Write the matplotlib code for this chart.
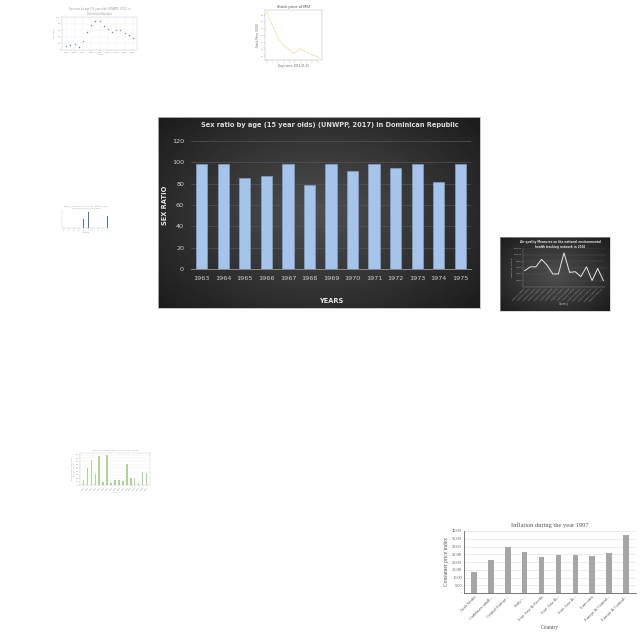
import matplotlib
matplotlib.use("Agg")
import matplotlib.pyplot as plt
import numpy as np

# ---------------- data ----------------
years = ["1963", "1964", "1965", "1966", "1967", "1968", "1969", "1970",
         "1971", "1972", "1973", "1974", "1975"]
sex_ratio = [98, 98, 85.5, 87, 98, 79, 98.5, 91.5, 98.5, 95, 98.5, 82, 98.5]

scatter_x = [1950, 1955, 1960, 1965, 1970, 1975, 1980, 1985, 1990, 1995,
             2000, 2005, 2010, 2015, 2020, 2025, 2030]
scatter_y = [12, 16, 18, 10, 27, 55, 76, 88, 88, 73, 65, 56, 60, 61, 52, 44, 36]

stock_days = [0, 0.75, 1.5, 2.2, 3.0, 3.8, 4.8, 5.9, 6.8, 7.7, 8.8, 9.5]
stock_price = [47, 40, 33, 27, 23, 20.5, 17, 20.5, 18.5, 16.5, 15, 14]

small_cats = ["a", "b", "c", "d", "e", "f", "g", "h", "i", "j"]
small_vals = [0, 0, 0, 0, 25, 45, 0, 0, 0, 33]

air_vals = [50, 62, 62, 85, 67, 40, 40, 105, 45, 47, 32, 62, 20, 57, 20]

gdp_cats = ["%d" % (2000 + i) for i in range(20)]
gdp_vals = [15, 50, 73, 32, 85, 8, 88, 7, 14, 14, 12, 62, 22, 20, 6, 38, 37]

infl_countries = ["Arab World", "Caribbean small...", "Central Europe...", "Early-...",
                  "East Asia & Pacific", "East Asia &...", "East Asia &...",
                  "Euro area", "Europe & Central...", "Europe & Central..."]
infl_vals = [13.5, 21.5, 29.5, 26.5, 23.2, 24.6, 24.2, 23.6, 25.8, 37.5]
infl_ticks = ["-", "5.00", "10.00", "15.00", "20.00", "25.00", "30.00", "35.00", "40.00"]

# ---------------- layout helpers ----------------
W = H = 640.0


def box(x0, y0, x1, y1):
    return [x0 / W, 1 - y1 / H, (x1 - x0) / W, (y1 - y0) / H]


fig = plt.figure(figsize=(6.4, 6.4), dpi=100)
fig.patch.set_facecolor("white")


def thin(ax, color="#cccccc", lw=0.3):
    for s in ax.spines.values():
        s.set_linewidth(lw)
        s.set_color(color)
    ax.tick_params(length=0.8, width=0.3, labelsize=1.6, pad=0.5, colors="#999999")


# ---------------- main chart ----------------
bg = fig.add_axes(box(158, 117, 480, 308))
yy, xx = np.mgrid[-1:1:200j, -1:1:300j]
r = np.sqrt(xx ** 2 + (yy * 0.9) ** 2)
grad = np.clip(0.31 - 0.15 * r, 0.1, 1)
bg.imshow(grad, cmap="gray", vmin=0, vmax=1, aspect="auto", extent=[0, 1, 0, 1])
bg.set_xticks([]); bg.set_yticks([])
for s in bg.spines.values():
    s.set_color("#bbbbbb"); s.set_linewidth(0.6)
bg.text(0.535, 0.958, "Sex ratio by age (15 year olds) (UNWPP, 2017) in Dominican Republic",
        ha="center", va="center", color="#dcdcdc", fontsize=4.8, fontweight="bold",
        transform=bg.transAxes)

ax = fig.add_axes(box(191, 141, 471, 269))
ax.patch.set_alpha(0)
x = np.arange(len(years))
ax.bar(x, sex_ratio, width=0.52, color="#a6c4eb", edgecolor="#86abd9", linewidth=0.4, zorder=3)
ax.set_xlim(-0.5, len(years) - 0.5)
ax.set_ylim(0, 120)
ax.set_yticks(range(0, 121, 20))
ax.set_xticks(x)
ax.set_xticklabels(years)
ax.tick_params(colors="#d0d0d0", labelsize=4.6, length=0, pad=5)
ax.grid(axis="y", color="#555555", linewidth=0.5, zorder=0)
for s in ["top", "right", "left"]:
    ax.spines[s].set_visible(False)
ax.spines["bottom"].set_color("#8a8a8a")
ax.spines["bottom"].set_linewidth(0.7)
ax.set_ylabel("SEX RATIO", color="#e6e6e6", fontsize=4.8, fontweight="bold")
ax.yaxis.set_label_coords(-0.082, 0.5)
ax.set_xlabel("YEARS", color="#e6e6e6", fontsize=4.8, fontweight="bold", labelpad=12)

# ---------------- thumbnail: scatter (top left) ----------------
a1 = fig.add_axes(box(62, 17, 137, 50))
a1.scatter(scatter_x, scatter_y, s=1.2, color="#6a7fb5", linewidths=0)
a1.set_xlim(1945, 2035); a1.set_ylim(0, 100)
a1.grid(color="#eeeeee", linewidth=0.3)
thin(a1)
a1.set_title("Sex ratio by age (15 year olds) (UNWPP, 2017) in\nDominican Republic",
             fontsize=1.8, color="#999999", pad=1.5)
a1.set_xlabel("Years", fontsize=1.6, color="#999999", labelpad=0.5)
a1.set_ylabel("Sex ratio", fontsize=1.6, color="#999999", labelpad=0.5)

# ---------------- thumbnail: stock price ----------------
a2 = fig.add_axes(box(265, 10, 322, 60))
a2.plot(stock_days, stock_price, color="#ebdf95", linewidth=0.5)
a2.set_xlim(-0.3, 9.8)
a2.set_xticks(range(0, 10))
a2.set_yticks([15, 20, 25, 30, 35, 40, 45])
thin(a2, color="#aaaaaa")
a2.set_title("Stock price of MST", fontsize=2.6, color="#444444", pad=1.5)
a2.set_xlabel("Days since 2014-01-15", fontsize=2.0, color="#666666", labelpad=0.5)
a2.set_ylabel("Stock Price (USD)", fontsize=2.0, color="#666666", labelpad=0.5)

# ---------------- thumbnail: small blue bars ----------------
a3 = fig.add_axes(box(62, 210, 110, 228))
a3.bar(range(len(small_cats)), small_vals, width=0.25, color="#4a6fb5")
a3.set_xlim(-0.5, len(small_cats) - 0.5); a3.set_ylim(0, 50)
a3.set_xticks(range(len(small_cats)))
a3.set_xticklabels(small_cats, rotation=45)
a3.set_yticks([])
thin(a3)
a3.spines["top"].set_visible(False); a3.spines["right"].set_visible(False)
a3.set_title("Mean / median income by region, 2017\n(Percentile 50 of income)",
             fontsize=1.6, color="#999999", pad=1.2)
a3.set_xlabel("Region", fontsize=1.5, color="#999999", labelpad=0.5)

# ---------------- thumbnail: dark air-quality line ----------------
bg4 = fig.add_axes(box(500, 237, 610, 311))
bg4.imshow(grad, cmap="gray", vmin=0, vmax=1, aspect="auto", extent=[0, 1, 0, 1])
bg4.set_xticks([]); bg4.set_yticks([])
for s in bg4.spines.values():
    s.set_color("#bbbbbb"); s.set_linewidth(0.4)
bg4.text(0.55, 0.9, "Air quality Measures on the national environmental\nhealth tracking network in 2006",
         ha="center", va="center", color="#dddddd", fontsize=2.0, fontweight="bold",
         transform=bg4.transAxes)
a4 = fig.add_axes(box(523, 248, 605, 287))
a4.patch.set_alpha(0)
a4.plot(range(len(air_vals)), air_vals, color="#e6e6e6", linewidth=0.7)
a4.set_ylim(0, 120)
a4.set_xlim(-0.3, len(air_vals) - 0.7)
a4.set_xticks(range(len(air_vals)))
a4.set_xticklabels(["Country name %d" % i for i in range(len(air_vals))], rotation=45, ha="right")
a4.set_yticks([0, 20, 40, 60, 80, 100, 120])
a4.set_yticklabels(["", "20000", "40000", "60000", "80000", "100000", "120000"])
a4.tick_params(colors="#bbbbbb", labelsize=1.5, length=0, pad=0.5)
a4.grid(axis="y", color="#555555", linewidth=0.3)
for s in ["top", "right"]:
    a4.spines[s].set_visible(False)
a4.spines["left"].set_color("#888888"); a4.spines["bottom"].set_color("#888888")
a4.spines["left"].set_linewidth(0.3); a4.spines["bottom"].set_linewidth(0.3)
a4.set_ylabel("Result per annum", fontsize=1.6, color="#cccccc", labelpad=0.5)
a4.set_xlabel("Country", fontsize=1.8, color="#cccccc", labelpad=0.5)

# ---------------- thumbnail: green bars ----------------
a5 = fig.add_axes(box(80, 453, 150, 485))
a5.bar(range(len(gdp_vals)), gdp_vals, width=0.3, color="#a7cf8c")
a5.set_xlim(-0.8, len(gdp_vals) - 0.2); a5.set_ylim(0, 95)
a5.set_xticks(range(len(gdp_vals)))
a5.set_xticklabels(gdp_cats[:len(gdp_vals)], rotation=45)
a5.set_yticks(range(0, 91, 10))
a5.grid(axis="y", color="#eeeeee", linewidth=0.3)
thin(a5)
a5.set_title("GDP by industry, Basic Prices, 2000-2019",
             fontsize=1.6, color="#999999", pad=1.2)
a5.set_ylabel("Gross domestic product\nat basic prices", fontsize=1.4, color="#999999", labelpad=0.5)
a5.set_xlabel("Year", fontsize=1.5, color="#999999", labelpad=0.5)

# ---------------- thumbnail: inflation ----------------
a6 = fig.add_axes(box(464, 531, 636, 593))
xi = np.arange(len(infl_vals))
a6.bar(xi, infl_vals, width=0.33, color="#a6a6a6")
a6.set_xlim(-0.6, len(infl_vals) - 0.4); a6.set_ylim(0, 40)
a6.set_yticks(range(0, 41, 5))
a6.set_yticklabels(infl_ticks)
a6.set_xticks(xi)
a6.set_xticklabels(infl_countries, rotation=45, ha="right", rotation_mode="anchor")
a6.grid(axis="y", color="#dddddd", linewidth=0.4)
a6.set_axisbelow(True)
for s in ["top", "right"]:
    a6.spines[s].set_visible(False)
a6.spines["left"].set_color("#444444"); a6.spines["bottom"].set_color("#444444")
a6.spines["left"].set_linewidth(0.5); a6.spines["bottom"].set_linewidth(0.5)
a6.tick_params(labelsize=3.2, length=0, pad=1.5, colors="#555555")
for lab in a6.get_xticklabels() + a6.get_yticklabels():
    lab.set_family("Liberation Serif")
a6.set_title("Inflation during the year 1997", fontsize=4.6, color="#555555",
             family="Liberation Serif", pad=3)
a6.set_ylabel("Consumer price index", fontsize=4.0, color="#555555", family="Liberation Serif", labelpad=2)
a6.set_xlabel("Country", fontsize=4.0, color="#555555", family="Liberation Serif", labelpad=2)

fig.savefig("out.png", dpi=100)
